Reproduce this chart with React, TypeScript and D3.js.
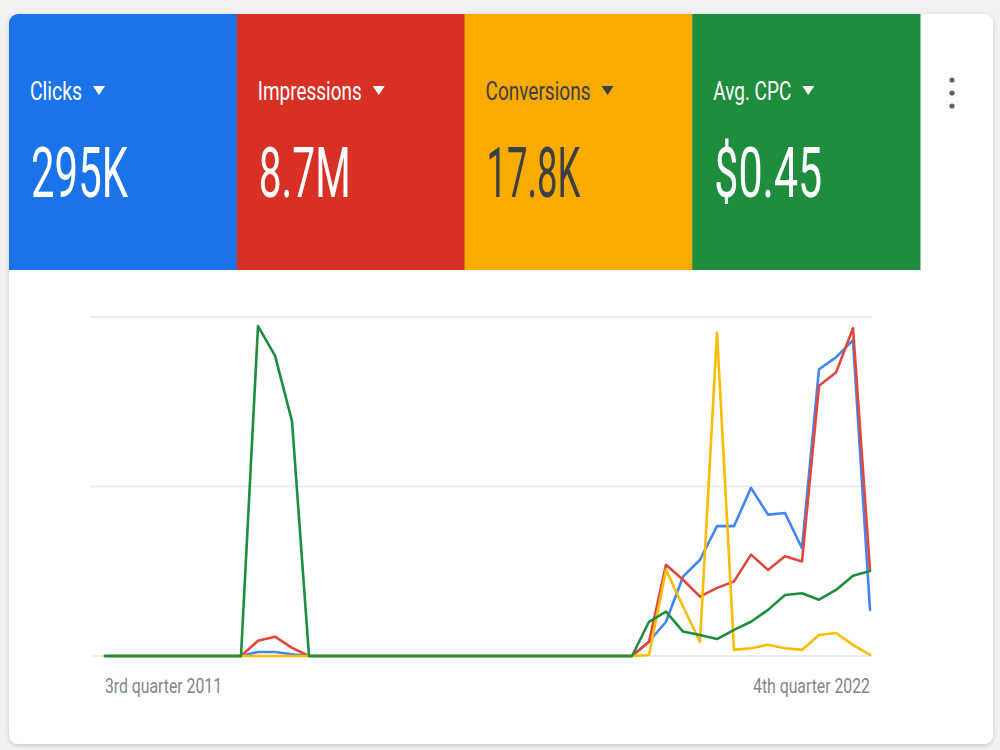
import React from "react";
import * as d3 from "d3";

const quarters = [
  "2011 Q3","2011 Q4",
  "2012 Q1","2012 Q2","2012 Q3","2012 Q4",
  "2013 Q1","2013 Q2","2013 Q3","2013 Q4",
  "2014 Q1","2014 Q2","2014 Q3","2014 Q4",
  "2015 Q1","2015 Q2","2015 Q3","2015 Q4",
  "2016 Q1","2016 Q2","2016 Q3","2016 Q4",
  "2017 Q1","2017 Q2","2017 Q3","2017 Q4",
  "2018 Q1","2018 Q2","2018 Q3","2018 Q4",
  "2019 Q1","2019 Q2","2019 Q3","2019 Q4",
  "2020 Q1","2020 Q2","2020 Q3","2020 Q4",
  "2021 Q1","2021 Q2","2021 Q3","2021 Q4",
  "2022 Q1","2022 Q2","2022 Q3","2022 Q4",
];

// normalised values (0-100) per metric
const clicks = [
  0,0,0,0,0,0,0,0,0,1.2,1.2,0.5,0,0,0,0,0,0,0,0,0,0,0,0,0,0,0,0,0,0,0,0,
  4.2,10.1,23.4,28.4,38.3,38.3,49.6,41.7,42.2,31.8,84.6,88.1,93.2,13.6,
];
const impressions = [
  0,0,0,0,0,0,0,0,0,4.5,5.7,2.4,0,0,0,0,0,0,0,0,0,0,0,0,0,0,0,0,0,0,0,0,
  4.2,26.9,22.5,17.5,20.1,22.0,29.9,25.4,29.4,27.9,79.7,83.6,96.7,25.4,
];
const conversions = [
  0,0,0,0,0,0,0,0,0,0,0,0,0,0,0,0,0,0,0,0,0,0,0,0,0,0,0,0,0,0,0,0,
  0.3,25.4,14.6,4.2,95.4,1.8,2.3,3.3,2.3,1.8,6.2,6.8,3.3,0.3,
];
const avgCpc = [
  0,0,0,0,0,0,0,0,0,97.3,88.6,69.3,0,0,0,0,0,0,0,0,0,0,0,0,0,0,0,0,0,0,0,0,
  10.1,13.1,7.2,6.2,5.0,7.7,10.1,13.6,18.0,18.5,16.6,19.5,23.7,25.1,
];

const tileLabels = ["Clicks", "Impressions", "Conversions", "Avg. CPC"];
const tileValues = ["295K", "8.7M", "17.8K", "$0.45"];
const yTicks = [0, 50, 100];
const xAxisLabels = ["3rd quarter 2011", "4th quarter 2022"];

const tileColors = ["#1a73e8", "#d93025", "#f9ab00", "#1e8e3e"];
const tileText = ["#ffffff", "#ffffff", "#3c4043", "#ffffff"];
const labelWidths = [52, 104, 105, 78];
const valueWidths = [97, 92, 94, 108];
const lineColors = ["#4285f4", "#e0483c", "#fbbc04", "#1e8e3e"];

export default function App() {
  const W = 1000, H = 750;
  const cardX = 9, cardY = 14, cardW = 984, cardH = 730;
  const tileW = 227.75, tileH = 256;
  const x = d3.scaleLinear().domain([0, quarters.length - 1]).range([105, 870]);
  const y = d3.scaleLinear().domain([0, 100]).range([656, 317]);
  const line = d3.line<number>().x((_, i) => x(i)).y((d) => y(d));
  const series = [clicks, impressions, conversions, avgCpc];
  const font = "Roboto, 'Noto Sans', sans-serif";

  return (
    <div style={{ position: "fixed", left: 0, top: 0, width: W, height: H }}>
      <svg width={W} height={H} style={{ display: "block" }}>
        <defs>
          <filter id="sh" x="-5%" y="-5%" width="110%" height="110%">
            <feDropShadow dx="0" dy="1.5" stdDeviation="2" floodColor="#000" floodOpacity="0.18" />
          </filter>
          <clipPath id="cardClip">
            <rect x={cardX} y={cardY} width={cardW} height={cardH} rx={9} />
          </clipPath>
        </defs>
        <rect x={0} y={0} width={W} height={H} fill="#f1f1f1" />
        <rect x={cardX} y={cardY} width={cardW} height={cardH} rx={9} fill="#ffffff" filter="url(#sh)" />
        <g clipPath="url(#cardClip)">
          {tileLabels.map((lab, i) => {
            const tx = cardX + i * tileW;
            const lx = tx + 21;
            const triX = lx + labelWidths[i] + 11;
            return (
              <g key={lab}>
                <rect x={tx} y={cardY} width={tileW + 0.5} height={tileH} fill={tileColors[i]} />
                <text x={lx} y={100} fontFamily={font} fontSize={26} fill={tileText[i]}
                  textLength={labelWidths[i]} lengthAdjust="spacingAndGlyphs">{lab}</text>
                <polygon points={`${triX},86 ${triX + 12},86 ${triX + 6},95`} fill={tileText[i]} />
                <text x={lx + 1} y={197} fontFamily={font} fontSize={70} fill={tileText[i]}
                  textLength={valueWidths[i]} lengthAdjust="spacingAndGlyphs">{tileValues[i]}</text>
              </g>
            );
          })}
        </g>
        {[80, 93, 106].map((cy) => (
          <circle key={cy} cx={952} cy={cy} r={2.6} fill="#5f6368" />
        ))}
        {yTicks.map((t) => (
          <line key={t} x1={90} x2={872} y1={y(t)} y2={y(t)} stroke="#e6e6e6" strokeWidth={1.5} />
        ))}
        {series.map((s, i) => (
          <path key={i} d={line(s) || ""} fill="none" stroke={lineColors[i]} strokeWidth={2.6}
            strokeLinejoin="round" strokeLinecap="round" />
        ))}
        <text x={105} y={693} fontFamily={font} fontSize={20} fill="#80868b"
          textLength={117} lengthAdjust="spacingAndGlyphs">{xAxisLabels[0]}</text>
        <text x={753} y={693} fontFamily={font} fontSize={20} fill="#80868b"
          textLength={117} lengthAdjust="spacingAndGlyphs">{xAxisLabels[1]}</text>
      </svg>
    </div>
  );
}
